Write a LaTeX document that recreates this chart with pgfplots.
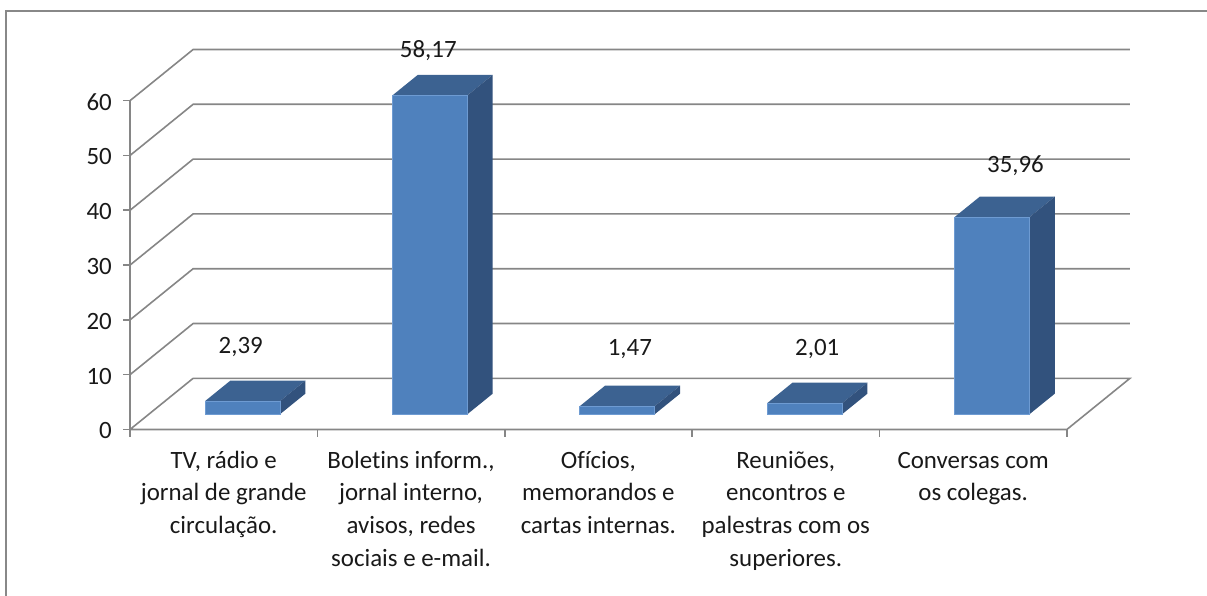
\documentclass[border=0pt]{standalone}
\usepackage{pgfplots}
\usepackage{pgfplotstable}
\pgfplotsset{compat=1.18}
\usepackage{fontspec}
\setmainfont{Carlito}[Ligatures=NoCommon]
\definecolor{barfront}{RGB}{79,129,189}
\definecolor{bartop}{RGB}{60,98,145}
\definecolor{barside}{RGB}{50,82,125}
\definecolor{baredge}{RGB}{110,155,210}
\definecolor{gridc}{RGB}{134,134,134}
\definecolor{framec}{RGB}{136,136,136}

% i = category, v = value, lx/ly = position of the value label
\pgfplotstableread{
i v lx ly
0 2.39 0.091 13.8
1 58.17 1.092 67.85
2 1.47 2.168 13.47
3 2.01 3.168 13.47
4 35.96 4.226 46.86
}\bars

\begin{document}
\begin{tikzpicture}[font=\fontsize{25}{33}\selectfont]
\begin{axis}[
  scale only axis, width=1000bp, height=380bp,
  xmin=-0.5, xmax=4.837, ymin=0, ymax=69.34,
  clip=false,
  axis line style={draw=none},
  major tick length=0pt,
  tick style={draw=none},
  xtick={0,1,2,3,4},
  xticklabels={
    {\strut TV, rádio e\\jornal de grande\\circulação.},
    {\strut Boletins inform.,\\jornal interno,\\avisos, redes\\sociais e e-mail.},
    {\strut Ofícios,\\memorandos e\\cartas internas.},
    {\strut Reuniões,\\encontros e\\palestras com os\\superiores.},
    {\strut Conversas com\\os colegas.}},
  ytick={0,10,...,60},
  /pgf/number format/assume math mode=true,
  xticklabel style={align=center, anchor=north, yshift=-12bp, text=black!90},
  yticklabel style={anchor=east, xshift=-14.7bp, yshift=-1.5bp, text=black!90},
  gline/.style={draw=gridc, line width=1.6bp},
]
% floor and walls
\addplot[gline] coordinates {(-0.5,0) (-0.163,9.34) (4.837,9.34) (4.5,0) (-0.5,0)};
\addplot[gline] coordinates {(-0.5,10) (-0.163,19.34) (4.837,19.34)};
\addplot[gline] coordinates {(-0.5,20) (-0.163,29.34) (4.837,29.34)};
\addplot[gline] coordinates {(-0.5,30) (-0.163,39.34) (4.837,39.34)};
\addplot[gline] coordinates {(-0.5,40) (-0.163,49.34) (4.837,49.34)};
\addplot[gline] coordinates {(-0.5,50) (-0.163,59.34) (4.837,59.34)};
\addplot[gline] coordinates {(-0.5,60) (-0.163,69.34) (4.837,69.34)};
\addplot[gline] coordinates {(-0.5,0) (-0.5,60)};
\pgfplotsinvokeforeach{0,10,20,30,40,50,60}{
  \addplot[gline] coordinates {(-0.537,#1) (-0.5,#1)};
}
\pgfplotsinvokeforeach{-0.5,0.5,1.5,2.5,3.5,4.5}{
  \addplot[gline] coordinates {(#1,0) (#1,-1.3)};
}
% bars
\pgfplotsinvokeforeach{0,1,2,3,4}{
  \pgfplotstablegetelem{#1}{v}\of\bars
  \pgfmathsetmacro\tf{\pgfplotsretval+2.8}
  \pgfmathsetmacro\tb{\pgfplotsretval+6.54}
  \pgfmathsetmacro\la{#1-0.099}
  \pgfmathsetmacro\ra{#1+0.301}
  \pgfmathsetmacro\lb{#1+0.036}
  \pgfmathsetmacro\rb{#1+0.436}
  \edef\doplot{%
    \noexpand\addplot[fill=bartop, draw=none] coordinates {(\la,\tf) (\ra,\tf) (\rb,\tb) (\lb,\tb)} --cycle;
    \noexpand\addplot[fill=barside, draw=none] coordinates {(\ra,2.8) (\rb,6.54) (\rb,\tb) (\ra,\tf)} --cycle;
    \noexpand\addplot[fill=barfront, draw=baredge, line width=0.8bp] coordinates {(\la,2.8) (\ra,2.8) (\ra,\tf) (\la,\tf)} --cycle;
  }\doplot
}
% value labels
\addplot[draw=none, point meta=explicit,
  nodes near coords={\pgfmathprintnumber[fixed, fixed zerofill, precision=2, use comma, assume math mode=true]{\pgfplotspointmeta}},
  nodes near coords align=center,
  every node near coord/.append style={anchor=base, text=black!90}]
  table[x=lx, y=ly, meta=v]{\bars};
\end{axis}
\pgfresetboundingbox
\path[use as bounding box] ([shift={(-130bp,-166.5bp)}]current axis.south west) rectangle ([shift={(1077bp,429.5bp)}]current axis.south west);
\draw[framec, line width=2bp] ([shift={(-124bp,-170bp)}]current axis.south west) -- ([shift={(-124bp,418.5bp)}]current axis.south west) -- ([shift={(1080bp,418.5bp)}]current axis.south west);
\end{tikzpicture}
\end{document}
